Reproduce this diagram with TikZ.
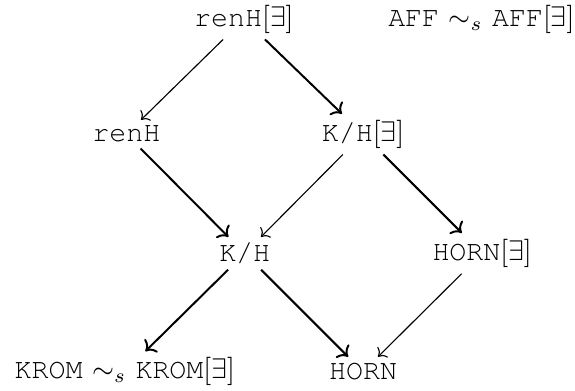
\documentclass[tikz,border=0pt]{standalone}
\usepackage{amsmath}
\usepackage{amssymb}
\usetikzlibrary{arrows.meta}
\tikzset{>=To}
\newcommand{\cls}[1]{{\fontencoding{T1}\fontfamily{pcr}\selectfont #1}}

\begin{document}
\begin{tikzpicture}[lite/.style={thin,->}, heavy/.style={line width=0.7pt,->}, every node/.style={inner sep=2pt}]
  \useasboundingbox (0,0) rectangle (7.143,4.857);
  \node (renHE) at (3.03,4.62) {\cls{renH}$[\exists]$};
  \node (aff) at (5.98,4.62) {\cls{AFF} $\sim_s$ \cls{AFF}$[\exists]$};
  \node (renH) at (1.57,3.19) {\cls{renH}};
  \node (khE) at (4.51,3.19) {\cls{K/H}$[\exists]$};
  \node (kh) at (3.04,1.71) {\cls{K/H}};
  \node (hornE) at (5.99,1.71) {\cls{HORN}$[\exists]$};
  \node (krom) at (1.55,0.24) {\cls{KROM} $\sim_s$ \cls{KROM}$[\exists]$};
  \node (horn) at (4.51,0.24) {\cls{HORN}};
  \draw[lite] (renHE) -- (renH);
  \draw[heavy] (renHE) -- (khE);
  \draw[heavy] (renH) -- (kh);
  \draw[lite] (khE) -- (kh);
  \draw[heavy] (khE) -- (hornE);
  \draw[heavy] (kh) -- (krom);
  \draw[heavy] (kh) -- (horn);
  \draw[lite] (hornE) -- (horn);
\end{tikzpicture}
\end{document}
